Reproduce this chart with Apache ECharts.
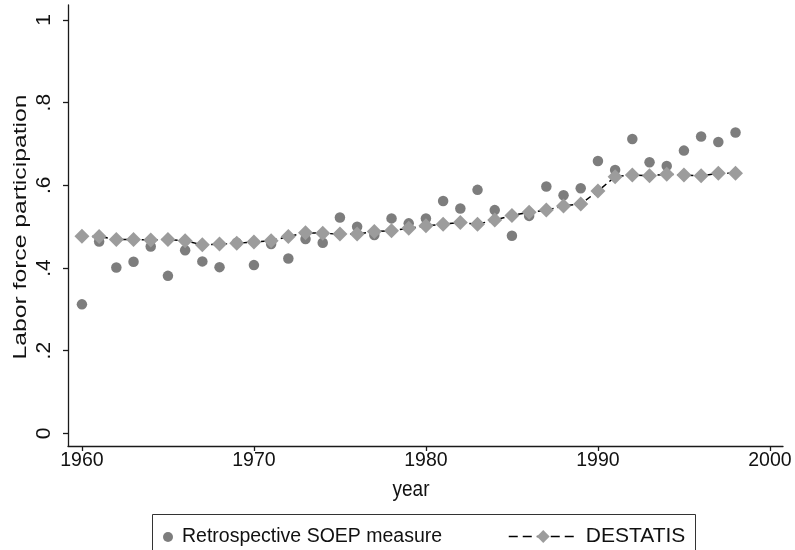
<!DOCTYPE html>
<html>
<head>
<meta charset="utf-8">
<script src="https://cdn.jsdelivr.net/npm/echarts@6/dist/echarts.min.js"></script>
<style>html,body{margin:0;padding:0;background:#fff}#c{width:795px;height:550px}</style>
</head>
<body>
<div id="c"></div>
<script>
var years = [1960,1961,1962,1963,1964,1965,1966,1967,1968,1969,1970,1971,1972,1973,1974,1975,1976,1977,1978,1979,1980,1981,1982,1983,1984,1985,1986,1987,1988,1989,1990,1991,1992,1993,1994,1995,1996,1997,1998];
var soep = [0.312,0.464,0.401,0.415,0.452,0.381,0.443,0.416,0.402,0.461,0.407,0.458,0.423,0.470,0.461,0.522,0.500,0.480,0.520,0.508,0.520,0.562,0.544,0.589,0.540,0.478,0.526,0.597,0.576,0.593,0.659,0.637,0.712,0.656,0.647,0.684,0.718,0.705,0.728];
var destatis = [0.477,0.476,0.469,0.469,0.468,0.469,0.466,0.456,0.458,0.460,0.463,0.466,0.476,0.485,0.484,0.482,0.482,0.488,0.490,0.496,0.502,0.506,0.510,0.506,0.516,0.527,0.535,0.540,0.550,0.555,0.586,0.621,0.625,0.623,0.627,0.625,0.623,0.629,0.629];
var xTicks = [1960,1970,1980,1990,2000];
var yTicks = [0,0.2,0.4,0.6,0.8,1];
var seriesNames = ['Retrospective SOEP measure','DESTATIS'];
var xTitle = 'year';
var yTitle = 'Labor force participation';

var FONT = '"Liberation Sans", Arial, sans-serif';
var chart = echarts.init(document.getElementById('c'), null, {renderer:'canvas'});
function pairs(a){ return years.map(function(y,i){ return [y,a[i]]; }); }
chart.setOption({
  animation:false,
  backgroundColor:'#fff',
  grid:{left:68,right:12,top:5,bottom:104,containLabel:false},
  xAxis:{
    type:'value', min:1959.19, max:2000.76,
    axisLine:{show:true,onZero:false,lineStyle:{color:'#1a1a1a',width:1.3}},
    axisTick:{show:true,length:5,customValues:xTicks,lineStyle:{color:'#1a1a1a',width:1.3}},
    axisLabel:{customValues:xTicks,margin:5,color:'#111',fontSize:19.5,fontFamily:FONT,formatter:function(v){return String(Math.round(v));}},
    splitLine:{show:false}
  },
  yAxis:{
    type:'value', min:-0.0307, max:1.0363,
    axisLine:{show:true,onZero:false,lineStyle:{color:'#1a1a1a',width:1.3}},
    axisTick:{show:true,length:5,customValues:yTicks,lineStyle:{color:'#1a1a1a',width:1.3}},
    axisLabel:{customValues:yTicks,rotate:90,margin:13,color:'#111',fontSize:21,fontFamily:FONT,
      formatter:function(v){ var r=Math.round(v*10)/10; if(r===0) return '0'; if(r===1) return '1'; return String(r).replace(/^0/,''); }},
    splitLine:{show:false}
  },
  legend:[
    {data:[{name:seriesNames[0],icon:'circle'}],left:163,top:527,itemWidth:10,itemHeight:10,padding:0,
     textStyle:{fontSize:19.5,fontFamily:FONT,color:'#111',padding:[0,0,0,4]}},
    {data:[seriesNames[1]],left:508,top:526,itemWidth:69,itemHeight:16,padding:0,
     lineStyle:{color:'#000',width:1.5,type:[9,5]},
     textStyle:{fontSize:21,fontFamily:FONT,color:'#111',padding:[0,0,0,3]}}
  ],
  graphic:[
    {type:'rect',shape:{x:152.5,y:514.5,width:543,height:60},style:{fill:'none',stroke:'#333',lineWidth:1},silent:true},
    {type:'text',x:411,y:490,scaleY:1.12,style:{text:xTitle,font:'19px '+FONT,fill:'#111',align:'center',verticalAlign:'middle'}},
    {type:'text',x:21,y:227,rotation:Math.PI/2,scaleX:1.3,style:{text:yTitle,font:'19px '+FONT,fill:'#111',align:'center',verticalAlign:'middle'}}
  ],
  series:[
    {name:seriesNames[0],type:'scatter',data:pairs(soep),symbol:'circle',symbolSize:10.5,
     itemStyle:{color:'#5c5c5c'},z:2},
    {name:seriesNames[1],type:'line',data:pairs(destatis),symbol:'diamond',symbolSize:15,showSymbol:true,
     lineStyle:{color:'#000',width:1.5,type:[6,4]},itemStyle:{color:'#9c9c9c'},z:3}
  ]
});
</script>
</body>
</html>
